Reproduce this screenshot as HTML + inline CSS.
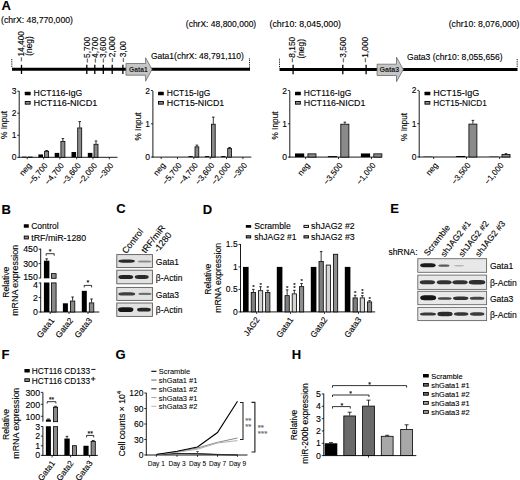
<!DOCTYPE html>
<html><head><meta charset="utf-8"><style>
html,body{margin:0;padding:0;background:#fff;width:520px;height:480px;overflow:hidden;}
svg{display:block;}
text{font-family:"Liberation Sans", sans-serif;stroke:currentColor;stroke-width:0.12px;}
svg{color:#000;}
</style></head><body>
<svg width="520" height="480" viewBox="0 0 520 480" font-family='"Liberation Sans", sans-serif'>
<defs><filter id="bl" x="-20%" y="-60%" width="140%" height="220%"><feGaussianBlur stdDeviation="0.6"/></filter></defs>
<rect width="520" height="480" fill="#fff"/>
<text x="1.5" y="10.4" font-size="13" font-weight="bold">A</text>
<text x="1" y="22.7" font-size="8.2" textLength="72" lengthAdjust="spacingAndGlyphs">(chrX: 48,770,000)</text>
<text x="185.8" y="27.4" font-size="8.2" textLength="70.4" lengthAdjust="spacingAndGlyphs">(chrX: 48,800,000)</text>
<text x="150.9" y="59.3" font-size="8.4" textLength="93" lengthAdjust="spacingAndGlyphs">Gata1(chrX: 48,791,110)</text>
<text x="269.5" y="27.3" font-size="8.2" textLength="71.5" lengthAdjust="spacingAndGlyphs">(chr10: 8,045,000)</text>
<text x="448.7" y="27.4" font-size="8.2" textLength="70.8" lengthAdjust="spacingAndGlyphs">(chr10: 8,076,000)</text>
<text x="407" y="59.8" font-size="8.4" textLength="95.5" lengthAdjust="spacingAndGlyphs">Gata3 (chr10: 8,055,656)</text>
<line x1="12" y1="69.3" x2="250" y2="69.3" stroke="#000" stroke-width="3"/>
<line x1="11.8" y1="59" x2="11.8" y2="68" stroke="#000" stroke-width="1" stroke-dasharray="0.9 0.9"/>
<line x1="249.5" y1="58.4" x2="249.5" y2="68" stroke="#000" stroke-width="1" stroke-dasharray="0.9 0.9"/>
<line x1="21.5" y1="64.8" x2="21.5" y2="74" stroke="#000" stroke-width="1.3"/>
<line x1="86.8" y1="64.8" x2="86.8" y2="74" stroke="#000" stroke-width="1.3"/>
<line x1="94.8" y1="64.8" x2="94.8" y2="74" stroke="#000" stroke-width="1.3"/>
<line x1="103.3" y1="64.8" x2="103.3" y2="74" stroke="#000" stroke-width="1.3"/>
<line x1="112.2" y1="64.8" x2="112.2" y2="74" stroke="#000" stroke-width="1.3"/>
<line x1="122.9" y1="64.8" x2="122.9" y2="74" stroke="#000" stroke-width="1.3"/>
<text x="24.3" y="61.5" font-size="8.4" transform="rotate(-90 24.3 61.5)">−14,400</text>
<text x="32.2" y="46" font-size="8.4" text-anchor="middle" transform="rotate(-90 32.2 46)">(neg)</text>
<text x="89.6" y="62.8" font-size="8.4" transform="rotate(-90 89.6 62.8)">−5,700</text>
<text x="97.6" y="62.8" font-size="8.4" transform="rotate(-90 97.6 62.8)">−4,700</text>
<text x="106.1" y="62.8" font-size="8.4" transform="rotate(-90 106.1 62.8)">−3,600</text>
<text x="115" y="62.2" font-size="8.4" transform="rotate(-90 115 62.2)">−2,000</text>
<text x="125.7" y="62.2" font-size="8.4" transform="rotate(-90 125.7 62.2)">−3,00</text>
<polygon points="126,63.5 145.6,63.5 145.6,57.7 152,69.3 145.6,81.2 145.6,75.2 126,75.2" fill="#c6c6c6" stroke="#6a6a6a" stroke-width="0.8"/>
<text x="129" y="71.9" font-size="7.6" font-weight="bold" fill="#222" stroke="#222" textLength="18.6" lengthAdjust="spacingAndGlyphs" style="stroke-width:0px">Gata1</text>
<line x1="279.5" y1="69.5" x2="517.5" y2="69.5" stroke="#000" stroke-width="3"/>
<line x1="279.5" y1="58.8" x2="279.5" y2="68" stroke="#000" stroke-width="1" stroke-dasharray="0.9 0.9"/>
<line x1="517.2" y1="59" x2="517.2" y2="68" stroke="#000" stroke-width="1" stroke-dasharray="0.9 0.9"/>
<line x1="293.1" y1="64.8" x2="293.1" y2="74.2" stroke="#000" stroke-width="1.3"/>
<line x1="342.8" y1="64.8" x2="342.8" y2="74.2" stroke="#000" stroke-width="1.3"/>
<line x1="366.1" y1="64.8" x2="366.1" y2="74.2" stroke="#000" stroke-width="1.3"/>
<text x="295.5" y="62.6" font-size="8.4" transform="rotate(-90 295.5 62.6)">−8,150</text>
<text x="303.6" y="48.8" font-size="8.4" text-anchor="middle" transform="rotate(-90 303.6 48.8)">(neg)</text>
<text x="346" y="62.6" font-size="8.4" transform="rotate(-90 346 62.6)">−3,500</text>
<text x="368.4" y="62.6" font-size="8.4" transform="rotate(-90 368.4 62.6)">−1,000</text>
<polygon points="377.1,64.2 396.5,64.2 396.5,57.2 403.3,69.5 396.5,81.7 396.5,75.5 377.1,75.5" fill="#c6c6c6" stroke="#6a6a6a" stroke-width="0.8"/>
<text x="379.5" y="72.2" font-size="7.6" font-weight="bold" fill="#222" stroke="#222" textLength="19.8" lengthAdjust="spacingAndGlyphs" style="stroke-width:0px">Gata3</text>
<line x1="19.2" y1="91" x2="19.2" y2="157.7" stroke="#000" stroke-width="0.9"/>
<line x1="18.8" y1="157.3" x2="117.5" y2="157.3" stroke="#000" stroke-width="0.9"/>
<line x1="17.2" y1="157.3" x2="19.2" y2="157.3" stroke="#000" stroke-width="0.8"/>
<text x="16.4" y="160.3" font-size="8.5" text-anchor="end">0</text>
<line x1="17.2" y1="135.25" x2="19.2" y2="135.25" stroke="#000" stroke-width="0.8"/>
<text x="16.4" y="138.25" font-size="8.5" text-anchor="end">1</text>
<line x1="17.2" y1="113.2" x2="19.2" y2="113.2" stroke="#000" stroke-width="0.8"/>
<text x="16.4" y="116.2" font-size="8.5" text-anchor="end">2</text>
<line x1="17.2" y1="91.15" x2="19.2" y2="91.15" stroke="#000" stroke-width="0.8"/>
<text x="16.4" y="94.15" font-size="8.5" text-anchor="end">3</text>
<line x1="27.2" y1="157.3" x2="27.2" y2="159.3" stroke="#000" stroke-width="0.8"/>
<line x1="43.6" y1="157.3" x2="43.6" y2="159.3" stroke="#000" stroke-width="0.8"/>
<line x1="59.9" y1="157.3" x2="59.9" y2="159.3" stroke="#000" stroke-width="0.8"/>
<line x1="76.7" y1="157.3" x2="76.7" y2="159.3" stroke="#000" stroke-width="0.8"/>
<line x1="93" y1="157.3" x2="93" y2="159.3" stroke="#000" stroke-width="0.8"/>
<line x1="109.3" y1="157.3" x2="109.3" y2="159.3" stroke="#000" stroke-width="0.8"/>
<rect x="22" y="156.64" width="4.6" height="0.66" fill="#000"/>
<rect x="28.2" y="157.04" width="4" height="0.26" fill="#8a8a8a" stroke="#000" stroke-width="0.8"/>
<rect x="38.4" y="154.43" width="4.6" height="2.87" fill="#000"/>
<line x1="46.6" y1="150.91" x2="46.6" y2="150.46" stroke="#000" stroke-width="0.8"/>
<line x1="45.3" y1="150.46" x2="47.9" y2="150.46" stroke="#000" stroke-width="0.8"/>
<rect x="44.6" y="151.31" width="4" height="5.99" fill="#8a8a8a" stroke="#000" stroke-width="0.8"/>
<rect x="54.7" y="152.89" width="4.6" height="4.41" fill="#000"/>
<line x1="62.9" y1="140.98" x2="62.9" y2="138.56" stroke="#000" stroke-width="0.8"/>
<line x1="61.6" y1="138.56" x2="64.2" y2="138.56" stroke="#000" stroke-width="0.8"/>
<rect x="60.9" y="141.38" width="4" height="15.92" fill="#8a8a8a" stroke="#000" stroke-width="0.8"/>
<rect x="71.5" y="152.01" width="4.6" height="5.29" fill="#000"/>
<line x1="79.7" y1="127.53" x2="79.7" y2="121.58" stroke="#000" stroke-width="0.8"/>
<line x1="78.4" y1="121.58" x2="81" y2="121.58" stroke="#000" stroke-width="0.8"/>
<rect x="77.7" y="127.93" width="4" height="29.37" fill="#8a8a8a" stroke="#000" stroke-width="0.8"/>
<rect x="87.8" y="152.89" width="4.6" height="4.41" fill="#000"/>
<line x1="96" y1="143.85" x2="96" y2="140.98" stroke="#000" stroke-width="0.8"/>
<line x1="94.7" y1="140.98" x2="97.3" y2="140.98" stroke="#000" stroke-width="0.8"/>
<rect x="94" y="144.25" width="4" height="13.05" fill="#8a8a8a" stroke="#000" stroke-width="0.8"/>
<rect x="24.8" y="91.8" width="5.8" height="3.5" fill="#000" rx="0.4"/>
<rect x="25.25" y="101.45" width="4.9" height="2.7" fill="#8a8a8a" stroke="#000" stroke-width="0.9"/>
<text x="33.6" y="96.3" font-size="8.3" textLength="48.7" lengthAdjust="spacingAndGlyphs">HCT116-IgG</text>
<text x="33.6" y="105.6" font-size="8.3" textLength="63.8" lengthAdjust="spacingAndGlyphs">HCT116-NICD1</text>
<text x="7.5" y="124.9" font-size="8.3" text-anchor="middle" transform="rotate(-90 7.5 124.9)">% Input</text>
<text x="31.8" y="165.7" font-size="8.2" text-anchor="end" transform="rotate(-51 31.8 165.7)">neg</text>
<text x="48.2" y="165.7" font-size="8.2" text-anchor="end" transform="rotate(-51 48.2 165.7)">−5,700</text>
<text x="64.5" y="165.7" font-size="8.2" text-anchor="end" transform="rotate(-51 64.5 165.7)">−4,700</text>
<text x="81.3" y="165.7" font-size="8.2" text-anchor="end" transform="rotate(-51 81.3 165.7)">−3,600</text>
<text x="97.6" y="165.7" font-size="8.2" text-anchor="end" transform="rotate(-51 97.6 165.7)">−2,000</text>
<text x="113.9" y="165.7" font-size="8.2" text-anchor="end" transform="rotate(-51 113.9 165.7)">−300</text>
<line x1="152.9" y1="91" x2="152.9" y2="157.5" stroke="#000" stroke-width="0.9"/>
<line x1="152.5" y1="157.1" x2="251.3" y2="157.1" stroke="#000" stroke-width="0.9"/>
<line x1="150.9" y1="157.1" x2="152.9" y2="157.1" stroke="#000" stroke-width="0.8"/>
<text x="150.1" y="160.1" font-size="8.5" text-anchor="end">0</text>
<line x1="150.9" y1="123.8" x2="152.9" y2="123.8" stroke="#000" stroke-width="0.8"/>
<text x="150.1" y="126.8" font-size="8.5" text-anchor="end">1</text>
<line x1="150.9" y1="90.5" x2="152.9" y2="90.5" stroke="#000" stroke-width="0.8"/>
<text x="150.1" y="93.5" font-size="8.5" text-anchor="end">2</text>
<line x1="161.2" y1="157.1" x2="161.2" y2="159.1" stroke="#000" stroke-width="0.8"/>
<line x1="177.5" y1="157.1" x2="177.5" y2="159.1" stroke="#000" stroke-width="0.8"/>
<line x1="193.8" y1="157.1" x2="193.8" y2="159.1" stroke="#000" stroke-width="0.8"/>
<line x1="210.2" y1="157.1" x2="210.2" y2="159.1" stroke="#000" stroke-width="0.8"/>
<line x1="226.5" y1="157.1" x2="226.5" y2="159.1" stroke="#000" stroke-width="0.8"/>
<line x1="242.9" y1="157.1" x2="242.9" y2="159.1" stroke="#000" stroke-width="0.8"/>
<rect x="188.5" y="156.1" width="4.3" height="1" fill="#000"/>
<line x1="196.9" y1="146.44" x2="196.9" y2="145.11" stroke="#000" stroke-width="0.8"/>
<line x1="195.6" y1="145.11" x2="198.2" y2="145.11" stroke="#000" stroke-width="0.8"/>
<rect x="195" y="146.84" width="3.8" height="10.26" fill="#8a8a8a" stroke="#000" stroke-width="0.8"/>
<rect x="204.9" y="156.1" width="4.3" height="1" fill="#000"/>
<line x1="213.3" y1="123.8" x2="213.3" y2="117.14" stroke="#000" stroke-width="0.8"/>
<line x1="212" y1="117.14" x2="214.6" y2="117.14" stroke="#000" stroke-width="0.8"/>
<rect x="211.4" y="124.2" width="3.8" height="32.9" fill="#8a8a8a" stroke="#000" stroke-width="0.8"/>
<rect x="221.2" y="156.1" width="4.3" height="1" fill="#000"/>
<line x1="229.6" y1="148.11" x2="229.6" y2="147.44" stroke="#000" stroke-width="0.8"/>
<line x1="228.3" y1="147.44" x2="230.9" y2="147.44" stroke="#000" stroke-width="0.8"/>
<rect x="227.7" y="148.51" width="3.8" height="8.59" fill="#8a8a8a" stroke="#000" stroke-width="0.8"/>
<rect x="158" y="91.8" width="5.8" height="3.5" fill="#000" rx="0.4"/>
<rect x="158.45" y="101.45" width="4.9" height="2.7" fill="#8a8a8a" stroke="#000" stroke-width="0.9"/>
<text x="166.8" y="96.3" font-size="8.3" textLength="43.5" lengthAdjust="spacingAndGlyphs">HCT15-IgG</text>
<text x="166.8" y="105.6" font-size="8.3" textLength="57.5" lengthAdjust="spacingAndGlyphs">HCT15-NICD1</text>
<text x="141.2" y="126.5" font-size="8.3" text-anchor="middle" transform="rotate(-90 141.2 126.5)">% Input</text>
<text x="165.8" y="165.5" font-size="8.2" text-anchor="end" transform="rotate(-51 165.8 165.5)">neg</text>
<text x="182.1" y="165.5" font-size="8.2" text-anchor="end" transform="rotate(-51 182.1 165.5)">−5,700</text>
<text x="198.4" y="165.5" font-size="8.2" text-anchor="end" transform="rotate(-51 198.4 165.5)">−4,700</text>
<text x="214.8" y="165.5" font-size="8.2" text-anchor="end" transform="rotate(-51 214.8 165.5)">−3,600</text>
<text x="231.1" y="165.5" font-size="8.2" text-anchor="end" transform="rotate(-51 231.1 165.5)">−2,000</text>
<text x="247.5" y="165.5" font-size="8.2" text-anchor="end" transform="rotate(-51 247.5 165.5)">−300</text>
<line x1="289.8" y1="91" x2="289.8" y2="157.5" stroke="#000" stroke-width="0.9"/>
<line x1="289.4" y1="157.1" x2="381.5" y2="157.1" stroke="#000" stroke-width="0.9"/>
<line x1="287.8" y1="157.1" x2="289.8" y2="157.1" stroke="#000" stroke-width="0.8"/>
<text x="287" y="160.1" font-size="8.5" text-anchor="end">0</text>
<line x1="287.8" y1="123.8" x2="289.8" y2="123.8" stroke="#000" stroke-width="0.8"/>
<text x="287" y="126.8" font-size="8.5" text-anchor="end">1</text>
<line x1="287.8" y1="90.5" x2="289.8" y2="90.5" stroke="#000" stroke-width="0.8"/>
<text x="287" y="93.5" font-size="8.5" text-anchor="end">2</text>
<line x1="305.6" y1="157.1" x2="305.6" y2="159.1" stroke="#000" stroke-width="0.8"/>
<line x1="338.5" y1="157.1" x2="338.5" y2="159.1" stroke="#000" stroke-width="0.8"/>
<line x1="371.5" y1="157.1" x2="371.5" y2="159.1" stroke="#000" stroke-width="0.8"/>
<rect x="295" y="153.44" width="9.2" height="3.66" fill="#000"/>
<rect x="307.9" y="153.84" width="8.1" height="3.26" fill="#8a8a8a" stroke="#000" stroke-width="0.8"/>
<rect x="327.9" y="156.1" width="9.2" height="1" fill="#000"/>
<line x1="344.85" y1="123.8" x2="344.85" y2="122.13" stroke="#000" stroke-width="0.8"/>
<line x1="343.55" y1="122.13" x2="346.15" y2="122.13" stroke="#000" stroke-width="0.8"/>
<rect x="340.8" y="124.2" width="8.1" height="32.9" fill="#8a8a8a" stroke="#000" stroke-width="0.8"/>
<rect x="360.9" y="153.44" width="9.2" height="3.66" fill="#000"/>
<rect x="373.8" y="153.84" width="8.1" height="3.26" fill="#8a8a8a" stroke="#000" stroke-width="0.8"/>
<rect x="295" y="91.8" width="5.8" height="3.5" fill="#000" rx="0.4"/>
<rect x="295.45" y="101.45" width="4.9" height="2.7" fill="#8a8a8a" stroke="#000" stroke-width="0.9"/>
<text x="303.8" y="96.3" font-size="8.3" textLength="47.5" lengthAdjust="spacingAndGlyphs">HCT116-IgG</text>
<text x="303.8" y="105.6" font-size="8.3" textLength="61.5" lengthAdjust="spacingAndGlyphs">HCT116-NICD1</text>
<text x="278" y="125.5" font-size="8.3" text-anchor="middle" transform="rotate(-90 278 125.5)">% Input</text>
<text x="310.2" y="165.5" font-size="8.2" text-anchor="end" transform="rotate(-51 310.2 165.5)">neg</text>
<text x="343.1" y="165.5" font-size="8.2" text-anchor="end" transform="rotate(-51 343.1 165.5)">−3,500</text>
<text x="376.1" y="165.5" font-size="8.2" text-anchor="end" transform="rotate(-51 376.1 165.5)">−1,000</text>
<line x1="419.2" y1="91" x2="419.2" y2="157.4" stroke="#000" stroke-width="0.9"/>
<line x1="418.8" y1="157" x2="510.5" y2="157" stroke="#000" stroke-width="0.9"/>
<line x1="417.2" y1="157" x2="419.2" y2="157" stroke="#000" stroke-width="0.8"/>
<text x="416.4" y="160" font-size="8.5" text-anchor="end">0</text>
<line x1="417.2" y1="123.7" x2="419.2" y2="123.7" stroke="#000" stroke-width="0.8"/>
<text x="416.4" y="126.7" font-size="8.5" text-anchor="end">1</text>
<line x1="417.2" y1="90.4" x2="419.2" y2="90.4" stroke="#000" stroke-width="0.8"/>
<text x="416.4" y="93.4" font-size="8.5" text-anchor="end">2</text>
<line x1="433.7" y1="157" x2="433.7" y2="159" stroke="#000" stroke-width="0.8"/>
<line x1="466.5" y1="157" x2="466.5" y2="159" stroke="#000" stroke-width="0.8"/>
<line x1="499.6" y1="157" x2="499.6" y2="159" stroke="#000" stroke-width="0.8"/>
<rect x="423.4" y="156.67" width="9" height="0.33" fill="#000"/>
<rect x="436.1" y="157.07" width="8" height="-0.07" fill="#8a8a8a" stroke="#000" stroke-width="0.8"/>
<rect x="456.2" y="156" width="9" height="1" fill="#000"/>
<line x1="472.9" y1="123.7" x2="472.9" y2="120.37" stroke="#000" stroke-width="0.8"/>
<line x1="471.6" y1="120.37" x2="474.2" y2="120.37" stroke="#000" stroke-width="0.8"/>
<rect x="468.9" y="124.1" width="8" height="32.9" fill="#8a8a8a" stroke="#000" stroke-width="0.8"/>
<rect x="489.3" y="156.67" width="9" height="0.33" fill="#000"/>
<line x1="506" y1="154" x2="506" y2="153.67" stroke="#000" stroke-width="0.8"/>
<line x1="504.7" y1="153.67" x2="507.3" y2="153.67" stroke="#000" stroke-width="0.8"/>
<rect x="502" y="154.4" width="8" height="2.6" fill="#8a8a8a" stroke="#000" stroke-width="0.8"/>
<rect x="424.5" y="91.8" width="5.8" height="3.5" fill="#000" rx="0.4"/>
<rect x="424.95" y="101.45" width="4.9" height="2.7" fill="#8a8a8a" stroke="#000" stroke-width="0.9"/>
<text x="433.3" y="96.3" font-size="8.3" textLength="46" lengthAdjust="spacingAndGlyphs">HCT15-IgG</text>
<text x="433.3" y="105.6" font-size="8.3" textLength="53.5" lengthAdjust="spacingAndGlyphs">HCT15-NICD1</text>
<text x="406.8" y="126.9" font-size="8.3" text-anchor="middle" transform="rotate(-90 406.8 126.9)">% Input</text>
<text x="438.3" y="165.4" font-size="8.2" text-anchor="end" transform="rotate(-51 438.3 165.4)">neg</text>
<text x="471.1" y="165.4" font-size="8.2" text-anchor="end" transform="rotate(-51 471.1 165.4)">−3,500</text>
<text x="504.2" y="165.4" font-size="8.2" text-anchor="end" transform="rotate(-51 504.2 165.4)">−1,000</text>
<text x="1.5" y="213.6" font-size="13" font-weight="bold">B</text>
<rect x="23.8" y="224.2" width="5" height="3.6" fill="#000" rx="0.4"/>
<rect x="24.25" y="236.05" width="4.1" height="2.9" fill="#8a8a8a" stroke="#000" stroke-width="0.9"/>
<text x="31.2" y="229.2" font-size="8.5">Control</text>
<text x="31.2" y="240.6" font-size="8.5" textLength="55" lengthAdjust="spacingAndGlyphs">tRF/miR-1280</text>
<line x1="40.7" y1="248.6" x2="40.7" y2="278.3" stroke="#000" stroke-width="0.9"/>
<line x1="40.7" y1="282.5" x2="40.7" y2="312.4" stroke="#000" stroke-width="0.9"/>
<line x1="40.3" y1="312" x2="99.4" y2="312" stroke="#000" stroke-width="0.9"/>
<line x1="38.7" y1="249.2" x2="40.7" y2="249.2" stroke="#000" stroke-width="0.8"/>
<text x="37.9" y="252.2" font-size="8.8" text-anchor="end">450</text>
<line x1="38.7" y1="263.6" x2="40.7" y2="263.6" stroke="#000" stroke-width="0.8"/>
<text x="37.9" y="266.6" font-size="8.8" text-anchor="end">300</text>
<line x1="38.7" y1="278" x2="40.7" y2="278" stroke="#000" stroke-width="0.8"/>
<text x="37.9" y="279.8" font-size="8.8" text-anchor="end">150</text>
<line x1="38.7" y1="283" x2="40.7" y2="283" stroke="#000" stroke-width="0.8"/>
<text x="37.9" y="287.7" font-size="8.8" text-anchor="end">4</text>
<line x1="38.7" y1="297.5" x2="40.7" y2="297.5" stroke="#000" stroke-width="0.8"/>
<text x="37.9" y="300.5" font-size="8.8" text-anchor="end">2</text>
<line x1="38.7" y1="312" x2="40.7" y2="312" stroke="#000" stroke-width="0.8"/>
<text x="37.9" y="315" font-size="8.8" text-anchor="end">0</text>
<line x1="46.65" y1="260.72" x2="46.65" y2="258.8" stroke="#000" stroke-width="0.8"/>
<line x1="45.35" y1="258.8" x2="47.95" y2="258.8" stroke="#000" stroke-width="0.8"/>
<rect x="43.9" y="260.72" width="5.5" height="17.58" fill="#000"/>
<rect x="43.9" y="282.5" width="5.5" height="29.5" fill="#000"/>
<rect x="51.4" y="273.6" width="4.7" height="4.7" fill="#8a8a8a" stroke="#000" stroke-width="0.8"/>
<rect x="51.4" y="282.9" width="4.7" height="29.1" fill="#8a8a8a" stroke="#000" stroke-width="0.8"/>
<rect x="62.9" y="303.3" width="5" height="8.7" fill="#000"/>
<line x1="72.6" y1="300.62" x2="72.6" y2="296.99" stroke="#000" stroke-width="0.8"/>
<line x1="71.3" y1="296.99" x2="73.9" y2="296.99" stroke="#000" stroke-width="0.8"/>
<rect x="70.4" y="301.02" width="4.4" height="10.98" fill="#8a8a8a" stroke="#000" stroke-width="0.8"/>
<rect x="81.8" y="290.83" width="5" height="21.17" fill="#000"/>
<line x1="91.55" y1="302.5" x2="91.55" y2="298.95" stroke="#000" stroke-width="0.8"/>
<line x1="90.25" y1="298.95" x2="92.85" y2="298.95" stroke="#000" stroke-width="0.8"/>
<rect x="89.3" y="302.9" width="4.5" height="9.1" fill="#8a8a8a" stroke="#000" stroke-width="0.8"/>
<line x1="50.2" y1="312" x2="50.2" y2="314" stroke="#000" stroke-width="0.8"/>
<line x1="69" y1="312" x2="69" y2="314" stroke="#000" stroke-width="0.8"/>
<line x1="88" y1="312" x2="88" y2="314" stroke="#000" stroke-width="0.8"/>
<polyline points="46.2,255.7 46.2,253.7 54.2,253.7 54.2,255.7" fill="none" stroke="#000" stroke-width="0.8" stroke-linejoin="miter"/>
<text x="50.2" y="253.5" font-size="7" text-anchor="middle">*</text>
<polyline points="84.2,287.4 84.2,285.4 91.6,285.4 91.6,287.4" fill="none" stroke="#000" stroke-width="0.8" stroke-linejoin="miter"/>
<text x="87.9" y="285.2" font-size="7" text-anchor="middle">*</text>
<text x="8.9" y="282.2" font-size="8.6" text-anchor="middle" transform="rotate(-90 8.9 282.2)">Relative</text>
<text x="17.8" y="280.3" font-size="8.6" text-anchor="middle" textLength="71" lengthAdjust="spacingAndGlyphs" transform="rotate(-90 17.8 280.3)">mRNA expression</text>
<text x="54.8" y="320.5" font-size="8.4" text-anchor="end" transform="rotate(-52 54.8 320.5)">Gata1</text>
<text x="73.6" y="320.5" font-size="8.4" text-anchor="end" transform="rotate(-52 73.6 320.5)">Gata2</text>
<text x="92.6" y="320.5" font-size="8.4" text-anchor="end" transform="rotate(-52 92.6 320.5)">Gata3</text>
<text x="116.3" y="213.2" font-size="13" font-weight="bold">C</text>
<rect x="116.8" y="254.6" width="35.6" height="13" fill="#e2e2e2" stroke="#5a5a5a" stroke-width="0.9"/>
<rect x="118.4" y="259.5" width="16.5" height="3.2" rx="4.62" ry="1.6" fill="#2a2a2a" filter="url(#bl)"/>
<rect x="137.8" y="260.4" width="13.6" height="2" rx="3.81" ry="1" fill="#8c8c8c" filter="url(#bl)"/>
<rect x="116.8" y="270.2" width="35.6" height="13.6" fill="#e2e2e2" stroke="#5a5a5a" stroke-width="0.9"/>
<rect x="118.4" y="274.9" width="14.8" height="4.2" rx="4.14" ry="2.1" fill="#202020" filter="url(#bl)"/>
<rect x="134.8" y="275.1" width="13.9" height="3.8" rx="3.89" ry="1.9" fill="#2a2a2a" filter="url(#bl)"/>
<rect x="116.8" y="287.4" width="35.6" height="13" fill="#e2e2e2" stroke="#5a5a5a" stroke-width="0.9"/>
<rect x="118.4" y="292.3" width="16.8" height="3.2" rx="4.7" ry="1.6" fill="#3c3c3c" filter="url(#bl)"/>
<rect x="138.4" y="292.8" width="13" height="2.2" rx="3.64" ry="1.1" fill="#707070" filter="url(#bl)"/>
<rect x="116.8" y="303" width="35.6" height="13.4" fill="#e2e2e2" stroke="#5a5a5a" stroke-width="0.9"/>
<rect x="118" y="307.3" width="15.4" height="4.8" rx="4.31" ry="2.4" fill="#181818" filter="url(#bl)"/>
<rect x="137.1" y="307.8" width="13.7" height="3.8" rx="3.84" ry="1.9" fill="#262626" filter="url(#bl)"/>
<text x="155.8" y="264.6" font-size="8.5">Gata1</text>
<text x="155.8" y="281" font-size="8.5">β-Actin</text>
<text x="155.8" y="298" font-size="8.5">Gata3</text>
<text x="155.8" y="313" font-size="8.5">β-Actin</text>
<text x="143.8" y="231.8" font-size="8.9" text-anchor="end" transform="rotate(-52 143.8 231.8)">Control</text>
<text x="165.6" y="228" font-size="8.9" text-anchor="end" transform="rotate(-52 165.6 228)">tRF/miR</text>
<text x="172" y="235.2" font-size="8.9" text-anchor="end" transform="rotate(-52 172 235.2)">-1280</text>
<text x="202.8" y="213.5" font-size="13" font-weight="bold">D</text>
<rect x="245.8" y="224.9" width="5.4" height="2.9" fill="#000" rx="0.4"/>
<rect x="303.95" y="225.35" width="4.5" height="2.1" fill="#d4d4d4" stroke="#000" stroke-width="0.9"/>
<rect x="246.25" y="235.75" width="4.5" height="2.2" fill="#7e7e7e" stroke="#000" stroke-width="0.9"/>
<rect x="303.95" y="235.75" width="4.5" height="2.2" fill="#8e8e8e" stroke="#000" stroke-width="0.9"/>
<text x="254.3" y="228.9" font-size="8.5" textLength="36.5" lengthAdjust="spacingAndGlyphs">Scramble</text>
<text x="311.1" y="228.9" font-size="8.5" textLength="43.6" lengthAdjust="spacingAndGlyphs">shJAG2 #2</text>
<text x="254.3" y="240.2" font-size="8.5" textLength="42.2" lengthAdjust="spacingAndGlyphs">shJAG2 #1</text>
<text x="311.1" y="240.2" font-size="8.5" textLength="43.6" lengthAdjust="spacingAndGlyphs">shJAG2 #3</text>
<line x1="240.5" y1="244" x2="240.5" y2="312.3" stroke="#000" stroke-width="0.9"/>
<line x1="240.1" y1="311.9" x2="375.2" y2="311.9" stroke="#000" stroke-width="0.9"/>
<line x1="238.5" y1="244.4" x2="240.5" y2="244.4" stroke="#000" stroke-width="0.8"/>
<text x="237.7" y="247.4" font-size="8.5" text-anchor="end">1.5</text>
<line x1="238.5" y1="266.9" x2="240.5" y2="266.9" stroke="#000" stroke-width="0.8"/>
<text x="237.7" y="269.9" font-size="8.5" text-anchor="end">1</text>
<line x1="238.5" y1="289.4" x2="240.5" y2="289.4" stroke="#000" stroke-width="0.8"/>
<text x="237.7" y="292.4" font-size="8.5" text-anchor="end">0.5</text>
<line x1="238.5" y1="311.9" x2="240.5" y2="311.9" stroke="#000" stroke-width="0.8"/>
<text x="237.7" y="314.9" font-size="8.5" text-anchor="end">0</text>
<rect x="243" y="266.9" width="5.6" height="45" fill="#000"/>
<line x1="253.35" y1="292.1" x2="253.35" y2="289.4" stroke="#000" stroke-width="0.8"/>
<line x1="252.05" y1="289.4" x2="254.65" y2="289.4" stroke="#000" stroke-width="0.8"/>
<rect x="251.2" y="292.5" width="4.3" height="19.4" fill="#7e7e7e" stroke="#000" stroke-width="0.8"/>
<text x="253.35" y="289.3" font-size="6" text-anchor="middle" style="stroke-width:0.15px">*</text>
<line x1="260.55" y1="290.3" x2="260.55" y2="286.7" stroke="#000" stroke-width="0.8"/>
<line x1="259.25" y1="286.7" x2="261.85" y2="286.7" stroke="#000" stroke-width="0.8"/>
<rect x="258.4" y="290.7" width="4.3" height="21.2" fill="#d4d4d4" stroke="#000" stroke-width="0.8"/>
<text x="260.55" y="286.6" font-size="6" text-anchor="middle" style="stroke-width:0.15px">*</text>
<line x1="267.75" y1="292.1" x2="267.75" y2="290.3" stroke="#000" stroke-width="0.8"/>
<line x1="266.45" y1="290.3" x2="269.05" y2="290.3" stroke="#000" stroke-width="0.8"/>
<rect x="265.6" y="292.5" width="4.3" height="19.4" fill="#8e8e8e" stroke="#000" stroke-width="0.8"/>
<text x="267.75" y="290.2" font-size="6" text-anchor="middle" style="stroke-width:0.15px">*</text>
<line x1="256.65" y1="311.9" x2="256.65" y2="313.9" stroke="#000" stroke-width="0.8"/>
<rect x="276.8" y="266.9" width="5.6" height="45" fill="#000"/>
<line x1="287.15" y1="295.25" x2="287.15" y2="289.85" stroke="#000" stroke-width="0.8"/>
<line x1="285.85" y1="289.85" x2="288.45" y2="289.85" stroke="#000" stroke-width="0.8"/>
<rect x="285" y="295.65" width="4.3" height="16.25" fill="#7e7e7e" stroke="#000" stroke-width="0.8"/>
<text x="287.15" y="289.75" font-size="6" text-anchor="middle" style="stroke-width:0.15px">*</text>
<line x1="294.35" y1="293.45" x2="294.35" y2="290.3" stroke="#000" stroke-width="0.8"/>
<line x1="293.05" y1="290.3" x2="295.65" y2="290.3" stroke="#000" stroke-width="0.8"/>
<rect x="292.2" y="293.85" width="4.3" height="18.05" fill="#d4d4d4" stroke="#000" stroke-width="0.8"/>
<text x="294.35" y="290.2" font-size="6" text-anchor="middle" style="stroke-width:0.15px">*</text>
<text x="294.35" y="287.4" font-size="6" text-anchor="middle" style="stroke-width:0.15px">*</text>
<line x1="301.55" y1="286.25" x2="301.55" y2="283.55" stroke="#000" stroke-width="0.8"/>
<line x1="300.25" y1="283.55" x2="302.85" y2="283.55" stroke="#000" stroke-width="0.8"/>
<rect x="299.4" y="286.65" width="4.3" height="25.25" fill="#8e8e8e" stroke="#000" stroke-width="0.8"/>
<text x="301.55" y="283.45" font-size="6" text-anchor="middle" style="stroke-width:0.15px">*</text>
<line x1="290.45" y1="311.9" x2="290.45" y2="313.9" stroke="#000" stroke-width="0.8"/>
<rect x="310.8" y="266.9" width="5.6" height="45" fill="#000"/>
<line x1="321.15" y1="261.05" x2="321.15" y2="251.6" stroke="#000" stroke-width="0.8"/>
<line x1="319.85" y1="251.6" x2="322.45" y2="251.6" stroke="#000" stroke-width="0.8"/>
<rect x="319" y="261.45" width="4.3" height="50.45" fill="#7e7e7e" stroke="#000" stroke-width="0.8"/>
<rect x="326.2" y="265.05" width="4.3" height="46.85" fill="#d4d4d4" stroke="#000" stroke-width="0.8"/>
<rect x="333.4" y="254.25" width="4.3" height="57.65" fill="#8e8e8e" stroke="#000" stroke-width="0.8"/>
<line x1="324.45" y1="311.9" x2="324.45" y2="313.9" stroke="#000" stroke-width="0.8"/>
<rect x="344.8" y="266.9" width="5.6" height="45" fill="#000"/>
<line x1="355.15" y1="297.5" x2="355.15" y2="295.25" stroke="#000" stroke-width="0.8"/>
<line x1="353.85" y1="295.25" x2="356.45" y2="295.25" stroke="#000" stroke-width="0.8"/>
<rect x="353" y="297.9" width="4.3" height="14" fill="#7e7e7e" stroke="#000" stroke-width="0.8"/>
<text x="355.15" y="295.15" font-size="6" text-anchor="middle" style="stroke-width:0.15px">*</text>
<line x1="362.35" y1="297.5" x2="362.35" y2="295.7" stroke="#000" stroke-width="0.8"/>
<line x1="361.05" y1="295.7" x2="363.65" y2="295.7" stroke="#000" stroke-width="0.8"/>
<rect x="360.2" y="297.9" width="4.3" height="14" fill="#d4d4d4" stroke="#000" stroke-width="0.8"/>
<text x="362.35" y="295.6" font-size="6" text-anchor="middle" style="stroke-width:0.15px">*</text>
<text x="362.35" y="292.8" font-size="6" text-anchor="middle" style="stroke-width:0.15px">*</text>
<line x1="369.55" y1="301.55" x2="369.55" y2="300.65" stroke="#000" stroke-width="0.8"/>
<line x1="368.25" y1="300.65" x2="370.85" y2="300.65" stroke="#000" stroke-width="0.8"/>
<rect x="367.4" y="301.95" width="4.3" height="9.95" fill="#8e8e8e" stroke="#000" stroke-width="0.8"/>
<text x="369.55" y="300.55" font-size="6" text-anchor="middle" style="stroke-width:0.15px">*</text>
<line x1="358.45" y1="311.9" x2="358.45" y2="313.9" stroke="#000" stroke-width="0.8"/>
<text x="211.2" y="279.2" font-size="8.6" text-anchor="middle" transform="rotate(-90 211.2 279.2)">Relative</text>
<text x="221" y="277.8" font-size="8.6" text-anchor="middle" textLength="70" lengthAdjust="spacingAndGlyphs" transform="rotate(-90 221 277.8)">mRNA expression</text>
<text x="260.05" y="319.7" font-size="8.4" text-anchor="end" transform="rotate(-54 260.05 319.7)">JAG2</text>
<text x="293.85" y="319.7" font-size="8.4" text-anchor="end" transform="rotate(-54 293.85 319.7)">Gata1</text>
<text x="327.85" y="319.7" font-size="8.4" text-anchor="end" transform="rotate(-54 327.85 319.7)">Gata2</text>
<text x="361.85" y="319.7" font-size="8.4" text-anchor="end" transform="rotate(-54 361.85 319.7)">Gata3</text>
<text x="390.3" y="213.3" font-size="13" font-weight="bold">E</text>
<text x="388.4" y="255.3" font-size="8.6" textLength="29.2" lengthAdjust="spacingAndGlyphs">shRNA:</text>
<rect x="417.8" y="258.7" width="68.8" height="13.6" fill="#e8e8e8" stroke="#666" stroke-width="0.9"/>
<rect x="420.2" y="263.3" width="15.4" height="4" rx="4.31" ry="2" fill="#1e1e1e" filter="url(#bl)"/>
<rect x="438.2" y="264.6" width="11.4" height="2.2" rx="3.19" ry="1.1" fill="#5a5a5a" filter="url(#bl)"/>
<rect x="454" y="264.9" width="10.2" height="1.6" rx="2.86" ry="0.8" fill="#b4b4b4" filter="url(#bl)"/>
<rect x="417.8" y="275.1" width="68.8" height="14.3" fill="#e8e8e8" stroke="#666" stroke-width="0.9"/>
<rect x="419.8" y="280.15" width="15.2" height="4.2" rx="4.26" ry="2.1" fill="#333" filter="url(#bl)"/>
<rect x="436.8" y="280.25" width="14.8" height="4" rx="4.14" ry="2" fill="#333" filter="url(#bl)"/>
<rect x="452.4" y="280.15" width="15.2" height="4.2" rx="4.26" ry="2.1" fill="#333" filter="url(#bl)"/>
<rect x="468.8" y="280.05" width="16.4" height="4.4" rx="4.59" ry="2.2" fill="#2e2e2e" filter="url(#bl)"/>
<rect x="417.8" y="291.3" width="68.8" height="13.4" fill="#e8e8e8" stroke="#666" stroke-width="0.9"/>
<rect x="420.2" y="295.2" width="16" height="5" rx="4.48" ry="2.5" fill="#141414" filter="url(#bl)"/>
<rect x="437.8" y="297.2" width="13.8" height="2.6" rx="3.86" ry="1.3" fill="#444" filter="url(#bl)"/>
<rect x="453" y="296.5" width="15.4" height="3.6" rx="4.31" ry="1.8" fill="#333" filter="url(#bl)"/>
<rect x="469.8" y="296.8" width="14.6" height="3" rx="4.09" ry="1.5" fill="#444" filter="url(#bl)"/>
<rect x="417.8" y="307.4" width="68.8" height="13.2" fill="#e8e8e8" stroke="#666" stroke-width="0.9"/>
<rect x="420" y="312.4" width="16" height="3.2" rx="4.48" ry="1.6" fill="#383838" filter="url(#bl)"/>
<rect x="437.4" y="311.8" width="15.2" height="4.4" rx="4.26" ry="2.2" fill="#2c2c2c" filter="url(#bl)"/>
<rect x="454" y="312.3" width="14.4" height="3.4" rx="4.03" ry="1.7" fill="#363636" filter="url(#bl)"/>
<rect x="470" y="312.3" width="14.4" height="3.4" rx="4.03" ry="1.7" fill="#3a3a3a" filter="url(#bl)"/>
<text x="489.9" y="269.3" font-size="8.6">Gata1</text>
<text x="489.9" y="285.6" font-size="8.6">β-Actin</text>
<text x="489.9" y="301.7" font-size="8.6">Gata3</text>
<text x="489.9" y="317.5" font-size="8.6">β-Actin</text>
<text x="450.6" y="227.6" font-size="8.7" text-anchor="end" transform="rotate(-52 450.6 227.6)">Scramble</text>
<text x="471.2" y="223.6" font-size="8.7" text-anchor="end" transform="rotate(-52 471.2 223.6)">shJAG2 #1</text>
<text x="489.2" y="223.6" font-size="8.7" text-anchor="end" transform="rotate(-52 489.2 223.6)">shJAG2 #2</text>
<text x="505.7" y="223.6" font-size="8.7" text-anchor="end" transform="rotate(-52 505.7 223.6)">shJAG2 #3</text>
<text x="1.5" y="358.9" font-size="13" font-weight="bold">F</text>
<rect x="24.4" y="368.9" width="5.4" height="3.5" fill="#000" rx="0.4"/>
<rect x="24.85" y="378.75" width="4.5" height="2.7" fill="#8a8a8a" stroke="#000" stroke-width="0.9"/>
<text x="31.8" y="373.8" font-size="8.3" textLength="58.2" lengthAdjust="spacingAndGlyphs">HCT116 CD133</text>
<text x="31.8" y="383.6" font-size="8.3" textLength="58.2" lengthAdjust="spacingAndGlyphs">HCT116 CD133</text>
<line x1="91.3" y1="369.4" x2="95.5" y2="369.4" stroke="#000" stroke-width="0.9"/>
<line x1="91" y1="378.9" x2="95.4" y2="378.9" stroke="#000" stroke-width="0.85"/>
<line x1="93.2" y1="376.8" x2="93.2" y2="381" stroke="#000" stroke-width="0.85"/>
<line x1="42.9" y1="392.4" x2="42.9" y2="421.7" stroke="#000" stroke-width="0.9"/>
<line x1="42.9" y1="426.25" x2="42.9" y2="455.8" stroke="#000" stroke-width="0.9"/>
<line x1="42.5" y1="455.4" x2="97.8" y2="455.4" stroke="#000" stroke-width="0.9"/>
<line x1="40.9" y1="392.35" x2="42.9" y2="392.35" stroke="#000" stroke-width="0.8"/>
<text x="40.1" y="396.15" font-size="8.8" text-anchor="end">300</text>
<line x1="40.9" y1="404.3" x2="42.9" y2="404.3" stroke="#000" stroke-width="0.8"/>
<text x="40.1" y="407.9" font-size="8.8" text-anchor="end">200</text>
<line x1="40.9" y1="416.25" x2="42.9" y2="416.25" stroke="#000" stroke-width="0.8"/>
<text x="40.1" y="419.65" font-size="8.8" text-anchor="end">100</text>
<line x1="40.9" y1="426.51" x2="42.9" y2="426.51" stroke="#000" stroke-width="0.8"/>
<text x="40.1" y="429.51" font-size="8.8" text-anchor="end">3</text>
<line x1="40.9" y1="436.14" x2="42.9" y2="436.14" stroke="#000" stroke-width="0.8"/>
<text x="40.1" y="439.14" font-size="8.8" text-anchor="end">2</text>
<line x1="40.9" y1="445.77" x2="42.9" y2="445.77" stroke="#000" stroke-width="0.8"/>
<text x="40.1" y="448.77" font-size="8.8" text-anchor="end">1</text>
<line x1="40.9" y1="455.4" x2="42.9" y2="455.4" stroke="#000" stroke-width="0.8"/>
<text x="40.1" y="458.4" font-size="8.8" text-anchor="end">0</text>
<line x1="48.4" y1="419.6" x2="48.4" y2="419" stroke="#000" stroke-width="0.8"/>
<line x1="46.8" y1="419" x2="50" y2="419" stroke="#000" stroke-width="0.8"/>
<rect x="45.9" y="419.6" width="5" height="2.1" fill="#000"/>
<rect x="45.9" y="426.25" width="5" height="29.15" fill="#000"/>
<line x1="55.5" y1="406.9" x2="55.5" y2="406.3" stroke="#000" stroke-width="0.8"/>
<line x1="53.9" y1="406.3" x2="57.1" y2="406.3" stroke="#000" stroke-width="0.8"/>
<rect x="53.4" y="407.3" width="4.2" height="14.4" fill="#8a8a8a" stroke="#000" stroke-width="0.8"/>
<rect x="53.4" y="426.65" width="4.2" height="28.75" fill="#8a8a8a" stroke="#000" stroke-width="0.8"/>
<line x1="67" y1="438.55" x2="67" y2="436.33" stroke="#000" stroke-width="0.8"/>
<line x1="65.7" y1="436.33" x2="68.3" y2="436.33" stroke="#000" stroke-width="0.8"/>
<rect x="64.4" y="438.55" width="5.3" height="16.85" fill="#000"/>
<rect x="72.5" y="445.69" width="3.9" height="9.71" fill="#8a8a8a" stroke="#000" stroke-width="0.8"/>
<rect x="83.4" y="445.77" width="5.2" height="9.63" fill="#000"/>
<line x1="93.2" y1="440.95" x2="93.2" y2="440.47" stroke="#000" stroke-width="0.8"/>
<line x1="91.9" y1="440.47" x2="94.5" y2="440.47" stroke="#000" stroke-width="0.8"/>
<rect x="91.1" y="441.35" width="4.2" height="14.05" fill="#8a8a8a" stroke="#000" stroke-width="0.8"/>
<line x1="52.1" y1="455.4" x2="52.1" y2="457.4" stroke="#000" stroke-width="0.8"/>
<line x1="70.6" y1="455.4" x2="70.6" y2="457.4" stroke="#000" stroke-width="0.8"/>
<line x1="89.6" y1="455.4" x2="89.6" y2="457.4" stroke="#000" stroke-width="0.8"/>
<polyline points="47.2,403.5 47.2,401.7 55.9,401.7 55.9,403.5" fill="none" stroke="#000" stroke-width="0.8" stroke-linejoin="miter"/>
<text x="51.6" y="402.3" font-size="6.5" text-anchor="middle">**</text>
<polyline points="86.6,437.4 86.6,435.4 93.7,435.4 93.7,437.4" fill="none" stroke="#000" stroke-width="0.8" stroke-linejoin="miter"/>
<text x="90.2" y="435.8" font-size="7" text-anchor="middle">**</text>
<text x="9.3" y="424.5" font-size="8.6" text-anchor="middle" transform="rotate(-90 9.3 424.5)">Relative</text>
<text x="19" y="423.2" font-size="8.6" text-anchor="middle" textLength="71" lengthAdjust="spacingAndGlyphs" transform="rotate(-90 19 423.2)">mRNA expression</text>
<text x="55.7" y="463.2" font-size="8.4" text-anchor="end" transform="rotate(-53 55.7 463.2)">Gata1</text>
<text x="74.2" y="463.2" font-size="8.4" text-anchor="end" transform="rotate(-53 74.2 463.2)">Gata2</text>
<text x="93.2" y="463.2" font-size="8.4" text-anchor="end" transform="rotate(-53 93.2 463.2)">Gata3</text>
<text x="115.5" y="359.4" font-size="13" font-weight="bold">G</text>
<line x1="151.3" y1="371.3" x2="156.5" y2="371.3" stroke="#000" stroke-width="1.1"/>
<text x="158.8" y="374.3" font-size="8" textLength="31.3" lengthAdjust="spacingAndGlyphs" style="stroke-width:0.08px">Scramble</text>
<line x1="151.3" y1="380.05" x2="156.5" y2="380.05" stroke="#707070" stroke-width="1.1"/>
<text x="158.8" y="383.05" font-size="8" textLength="38.6" lengthAdjust="spacingAndGlyphs" style="stroke-width:0.08px">shGata1 #1</text>
<line x1="151.3" y1="388.8" x2="156.5" y2="388.8" stroke="#333" stroke-width="1.1"/>
<text x="158.8" y="391.8" font-size="8" textLength="38.6" lengthAdjust="spacingAndGlyphs" style="stroke-width:0.08px">shGata1 #2</text>
<line x1="151.3" y1="397.55" x2="156.5" y2="397.55" stroke="#a8a8a8" stroke-width="1.1"/>
<text x="158.8" y="400.55" font-size="8" textLength="38.6" lengthAdjust="spacingAndGlyphs" style="stroke-width:0.08px">shGata3 #1</text>
<line x1="151.3" y1="406.3" x2="156.5" y2="406.3" stroke="#bdbdbd" stroke-width="1.1"/>
<text x="158.8" y="409.3" font-size="8" textLength="38.6" lengthAdjust="spacingAndGlyphs" style="stroke-width:0.08px">shGata3 #2</text>
<line x1="146.3" y1="392.8" x2="146.3" y2="455.4" stroke="#000" stroke-width="0.9"/>
<line x1="145.9" y1="455" x2="247.5" y2="455" stroke="#000" stroke-width="0.9"/>
<line x1="144.3" y1="455" x2="146.3" y2="455" stroke="#000" stroke-width="0.8"/>
<text x="143.5" y="458" font-size="8.5" text-anchor="end">0</text>
<line x1="144.3" y1="439.5" x2="146.3" y2="439.5" stroke="#000" stroke-width="0.8"/>
<text x="143.5" y="442.5" font-size="8.5" text-anchor="end">30</text>
<line x1="144.3" y1="424" x2="146.3" y2="424" stroke="#000" stroke-width="0.8"/>
<text x="143.5" y="427" font-size="8.5" text-anchor="end">60</text>
<line x1="144.3" y1="408.5" x2="146.3" y2="408.5" stroke="#000" stroke-width="0.8"/>
<text x="143.5" y="411.5" font-size="8.5" text-anchor="end">90</text>
<line x1="144.3" y1="393" x2="146.3" y2="393" stroke="#000" stroke-width="0.8"/>
<text x="143.5" y="396" font-size="8.5" text-anchor="end">120</text>
<line x1="156.3" y1="455" x2="156.3" y2="456.8" stroke="#000" stroke-width="0.8"/>
<text x="156.3" y="466" font-size="6.6" text-anchor="middle" style="stroke-width:0.05px">Day 1</text>
<line x1="177" y1="455" x2="177" y2="456.8" stroke="#000" stroke-width="0.8"/>
<text x="177" y="466" font-size="6.6" text-anchor="middle" style="stroke-width:0.05px">Day 3</text>
<line x1="197.5" y1="455" x2="197.5" y2="456.8" stroke="#000" stroke-width="0.8"/>
<text x="197.5" y="466" font-size="6.6" text-anchor="middle" style="stroke-width:0.05px">Day 5</text>
<line x1="217.5" y1="455" x2="217.5" y2="456.8" stroke="#000" stroke-width="0.8"/>
<text x="217.5" y="466" font-size="6.6" text-anchor="middle" style="stroke-width:0.05px">Day 7</text>
<line x1="237.5" y1="455" x2="237.5" y2="456.8" stroke="#000" stroke-width="0.8"/>
<text x="237.5" y="466" font-size="6.6" text-anchor="middle" style="stroke-width:0.05px">Day 9</text>
<text x="125" y="423.6" font-size="8.5" text-anchor="middle" textLength="66" lengthAdjust="spacingAndGlyphs" transform="rotate(-90 125 423.6)">Cell counts × 10<tspan dy="-3.6" font-size="6.2">4</tspan></text>
<polyline points="156.3,454.5 177,453.7 197.5,453.5 217.5,454.4 237.5,454.9" fill="none" stroke="#4a4a4a" stroke-width="1" stroke-linejoin="miter"/>
<polyline points="156.3,454.5 177,453.4 197.5,453.9 217.5,454.6 237.5,455" fill="none" stroke="#2a2a2a" stroke-width="1" stroke-linejoin="miter"/>
<polyline points="156.3,454.5 177,451.8 197.5,448 217.5,442.3 237.5,438" fill="none" stroke="#8a8a8a" stroke-width="1" stroke-linejoin="miter"/>
<polyline points="156.3,454.5 177,452.2 197.5,449.2 217.5,443 237.5,440.6" fill="none" stroke="#b0b0b0" stroke-width="1" stroke-linejoin="miter"/>
<polyline points="156.3,454.5 177,451.2 197.5,447 217.5,432.5 237.5,401.3" fill="none" stroke="#000" stroke-width="1.15" stroke-linejoin="miter"/>
<line x1="197.5" y1="451.5" x2="197.5" y2="453.5" stroke="#444" stroke-width="0.8"/>
<line x1="196.2" y1="451.5" x2="198.8" y2="451.5" stroke="#444" stroke-width="0.8"/>
<polyline points="240,402.4 243,402.4 243,439.4 240,439.4" fill="none" stroke="#222" stroke-width="1.05" stroke-linejoin="miter"/>
<polyline points="251.5,402.4 254.9,402.4 254.9,452 251.5,452" fill="none" stroke="#222" stroke-width="1.15" stroke-linejoin="miter"/>
<text x="248.3" y="422.9" font-size="8" text-anchor="middle" fill="#a0a0a0" stroke="#a0a0a0" textLength="6.2" lengthAdjust="spacingAndGlyphs" style="stroke-width:0.1px">**</text>
<text x="248.3" y="428.6" font-size="8" text-anchor="middle" fill="#a0a0a0" stroke="#a0a0a0" textLength="6.2" lengthAdjust="spacingAndGlyphs" style="stroke-width:0.1px">**</text>
<text x="260.8" y="429.8" font-size="8" text-anchor="middle" fill="#909090" stroke="#909090" textLength="6.2" lengthAdjust="spacingAndGlyphs" style="stroke-width:0.1px">**</text>
<text x="262.6" y="435.5" font-size="8" text-anchor="middle" fill="#a0a0a0" stroke="#a0a0a0" textLength="9.6" lengthAdjust="spacingAndGlyphs" style="stroke-width:0.1px">***</text>
<text x="291.8" y="358.9" font-size="13" font-weight="bold">H</text>
<line x1="323.75" y1="393.6" x2="323.75" y2="456" stroke="#000" stroke-width="0.9"/>
<line x1="323.35" y1="455.6" x2="416.3" y2="455.6" stroke="#000" stroke-width="0.9"/>
<line x1="321.75" y1="455.6" x2="323.75" y2="455.6" stroke="#000" stroke-width="0.8"/>
<text x="320.95" y="458.6" font-size="8.8" text-anchor="end">0</text>
<line x1="321.75" y1="443.28" x2="323.75" y2="443.28" stroke="#000" stroke-width="0.8"/>
<text x="320.95" y="446.28" font-size="8.8" text-anchor="end">1</text>
<line x1="321.75" y1="430.96" x2="323.75" y2="430.96" stroke="#000" stroke-width="0.8"/>
<text x="320.95" y="433.96" font-size="8.8" text-anchor="end">2</text>
<line x1="321.75" y1="418.64" x2="323.75" y2="418.64" stroke="#000" stroke-width="0.8"/>
<text x="320.95" y="421.64" font-size="8.8" text-anchor="end">3</text>
<line x1="321.75" y1="406.32" x2="323.75" y2="406.32" stroke="#000" stroke-width="0.8"/>
<text x="320.95" y="409.32" font-size="8.8" text-anchor="end">4</text>
<line x1="321.75" y1="394" x2="323.75" y2="394" stroke="#000" stroke-width="0.8"/>
<text x="320.95" y="397" font-size="8.8" text-anchor="end">5</text>
<line x1="331" y1="443.28" x2="331" y2="442.66" stroke="#000" stroke-width="0.8"/>
<line x1="329" y1="442.66" x2="333" y2="442.66" stroke="#000" stroke-width="0.8"/>
<rect x="324.7" y="443.28" width="12.6" height="12.32" fill="#000"/>
<line x1="349.7" y1="415.56" x2="349.7" y2="412.23" stroke="#000" stroke-width="0.8"/>
<line x1="347.7" y1="412.23" x2="351.7" y2="412.23" stroke="#000" stroke-width="0.8"/>
<rect x="343.8" y="415.96" width="11.8" height="39.64" fill="#6a6a6a" stroke="#000" stroke-width="0.8"/>
<line x1="368.5" y1="405.7" x2="368.5" y2="400.16" stroke="#000" stroke-width="0.8"/>
<line x1="366.5" y1="400.16" x2="370.5" y2="400.16" stroke="#000" stroke-width="0.8"/>
<rect x="362.6" y="406.1" width="11.8" height="49.5" fill="#6a6a6a" stroke="#000" stroke-width="0.8"/>
<line x1="387.2" y1="435.89" x2="387.2" y2="435.27" stroke="#000" stroke-width="0.8"/>
<line x1="385.2" y1="435.27" x2="389.2" y2="435.27" stroke="#000" stroke-width="0.8"/>
<rect x="381.3" y="436.29" width="11.8" height="19.31" fill="#a8a8a8" stroke="#000" stroke-width="0.8"/>
<line x1="406.6" y1="429.11" x2="406.6" y2="424.8" stroke="#000" stroke-width="0.8"/>
<line x1="404.6" y1="424.8" x2="408.6" y2="424.8" stroke="#000" stroke-width="0.8"/>
<rect x="400.7" y="429.51" width="11.8" height="26.09" fill="#a8a8a8" stroke="#000" stroke-width="0.8"/>
<line x1="368.5" y1="455.6" x2="368.5" y2="457.6" stroke="#000" stroke-width="0.8"/>
<polyline points="332.5,408.6 332.5,406.6 350.3,406.6 350.3,408.6" fill="none" stroke="#000" stroke-width="0.8" stroke-linejoin="miter"/>
<text x="341.9" y="407.8" font-size="7" text-anchor="middle">*</text>
<polyline points="332.5,397 332.5,395 369,395 369,397" fill="none" stroke="#000" stroke-width="0.8" stroke-linejoin="miter"/>
<text x="350.7" y="396.2" font-size="7" text-anchor="middle">*</text>
<polyline points="332.5,387.6 332.5,385.6 406.6,385.6 406.6,387.6" fill="none" stroke="#000" stroke-width="0.8" stroke-linejoin="miter"/>
<text x="369.5" y="386.8" font-size="7" text-anchor="middle">*</text>
<text x="297" y="425" font-size="8.5" text-anchor="middle" transform="rotate(-90 297 425)">Relative</text>
<text x="308" y="423.5" font-size="8.5" text-anchor="middle" transform="rotate(-90 308 423.5)">miR-200b expression</text>
<rect x="423" y="373.95" width="5.8" height="3.6" fill="#000" rx="0.4"/>
<text x="431.3" y="378.75" font-size="8" textLength="31.3" lengthAdjust="spacingAndGlyphs">Scramble</text>
<rect x="423.45" y="383.45" width="4.9" height="2.7" fill="#6a6a6a" stroke="#000" stroke-width="0.9"/>
<text x="431.3" y="387.8" font-size="8" textLength="38.3" lengthAdjust="spacingAndGlyphs">shGata1 #1</text>
<rect x="423.45" y="392.5" width="4.9" height="2.7" fill="#6a6a6a" stroke="#000" stroke-width="0.9"/>
<text x="431.3" y="396.85" font-size="8" textLength="38.3" lengthAdjust="spacingAndGlyphs">shGata1 #2</text>
<rect x="423.45" y="401.55" width="4.9" height="2.7" fill="#a8a8a8" stroke="#000" stroke-width="0.9"/>
<text x="431.3" y="405.9" font-size="8" textLength="38.3" lengthAdjust="spacingAndGlyphs">shGata3 #1</text>
<rect x="423.45" y="410.6" width="4.9" height="2.7" fill="#a8a8a8" stroke="#000" stroke-width="0.9"/>
<text x="431.3" y="414.95" font-size="8" textLength="38.3" lengthAdjust="spacingAndGlyphs">shGata3 #2</text>
</svg>
</body></html>
